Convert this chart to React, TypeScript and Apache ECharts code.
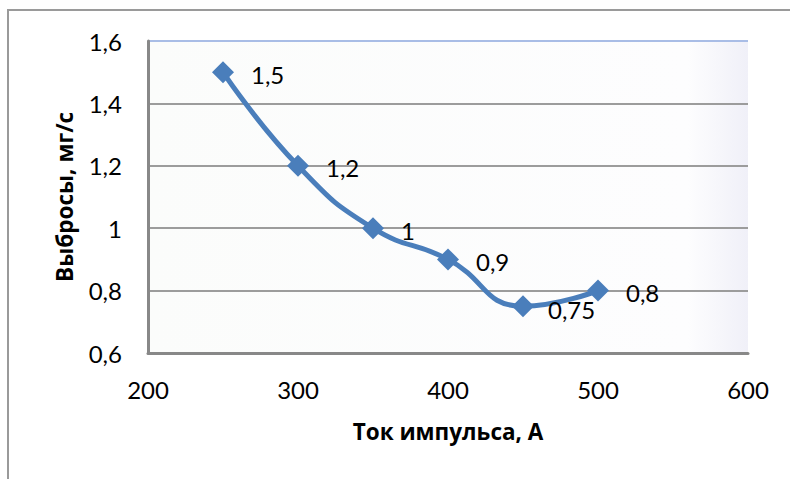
import React, { useEffect, useRef } from "react";
import * as echarts from "echarts";

const currents = [250, 300, 350, 400, 450, 500];
const emissions = [1.5, 1.2, 1, 0.9, 0.75, 0.8];
const valueLabels = ["1,5", "1,2", "1", "0,9", "0,75", "0,8"];
const xAxisName = "Ток импульса, А";
const yAxisName = "Выбросы, мг/с";

const numFont = "Lato, 'Open Sans', sans-serif";
const nameFont = "'Open Sans', 'Noto Sans', sans-serif";

export default function App() {
  const ref = useRef<HTMLDivElement>(null);
  useEffect(() => {
    if (!ref.current) return;
    const chart = echarts.init(ref.current, undefined, { renderer: "svg" });
    const data = currents.map((x, i) => ({
      value: [x, emissions[i]],
      label: {
        formatter: valueLabels[i],
        offset: i === 4 ? [-3, 3] : [0, 2],
      },
    }));
    chart.setOption({
      animation: false,
      backgroundColor: "#ffffff",
      graphic: [
        {
          type: "rect",
          z: -10,
          shape: { x: 8, y: 10, width: 900, height: 600 },
          style: { fill: "none", stroke: "#9a9a9a", lineWidth: 2 },
        },
      ],
      grid: {
        left: 148,
        top: 41,
        right: 42,
        bottom: 126,
        show: true,
        borderWidth: 0,
        backgroundColor: new echarts.graphic.LinearGradient(0, 0, 1, 0, [
          { offset: 0, color: "#fbfcfb" },
          { offset: 0.9, color: "#fdfdfe" },
          { offset: 1, color: "#f0f0f8" },
        ]),
      },
      xAxis: {
        type: "value",
        min: 200,
        max: 600,
        interval: 100,
        name: xAxisName,
        nameLocation: "middle",
        nameGap: 67,
        nameTextStyle: { fontFamily: nameFont, fontWeight: "bold", fontSize: 22.5, color: "#000" },
        axisLine: { show: true, lineStyle: { color: "#888888", width: 3 } },
        axisTick: { show: false },
        splitLine: { show: false },
        axisLabel: { fontFamily: numFont, fontSize: 24, color: "#000", margin: 24 },
      },
      yAxis: {
        type: "value",
        min: 0.6,
        max: 1.6,
        interval: 0.2,
        name: yAxisName,
        nameLocation: "middle",
        nameGap: 72,
        nameTextStyle: { fontFamily: nameFont, fontWeight: "bold", fontSize: 22.5, color: "#000" },
        axisLine: { show: true, lineStyle: { color: "#888888", width: 3 } },
        axisTick: { show: false },
        splitLine: {
          show: true,
          lineStyle: {
            color: ["#9c9c9c", "#9c9c9c", "#9c9c9c", "#9c9c9c", "#9c9c9c", "#a9bde6"],
            width: 2,
          },
        },
        axisLabel: {
          fontFamily: numFont,
          fontSize: 24,
          color: "#000",
          margin: 26,
          formatter: (v: number) => {
            const r = Math.round(v * 10) / 10;
            return String(r).replace(".", ",");
          },
        },
      },
      series: [
        {
          type: "line",
          data,
          smooth: 0.5,
          symbol: "diamond",
          symbolSize: 22,
          lineStyle: { color: "#4a7ebb", width: 5 },
          itemStyle: { color: "#4a7ebb" },
          label: {
            show: true,
            position: "right",
            distance: 17,
            fontFamily: numFont,
            fontSize: 24,
            color: "#000",
          },
        },
      ],
    });
    return () => chart.dispose();
  }, []);
  return (
    <div
      ref={ref}
      style={{ position: "fixed", left: 0, top: 0, width: 790, height: 479 }}
    />
  );
}
